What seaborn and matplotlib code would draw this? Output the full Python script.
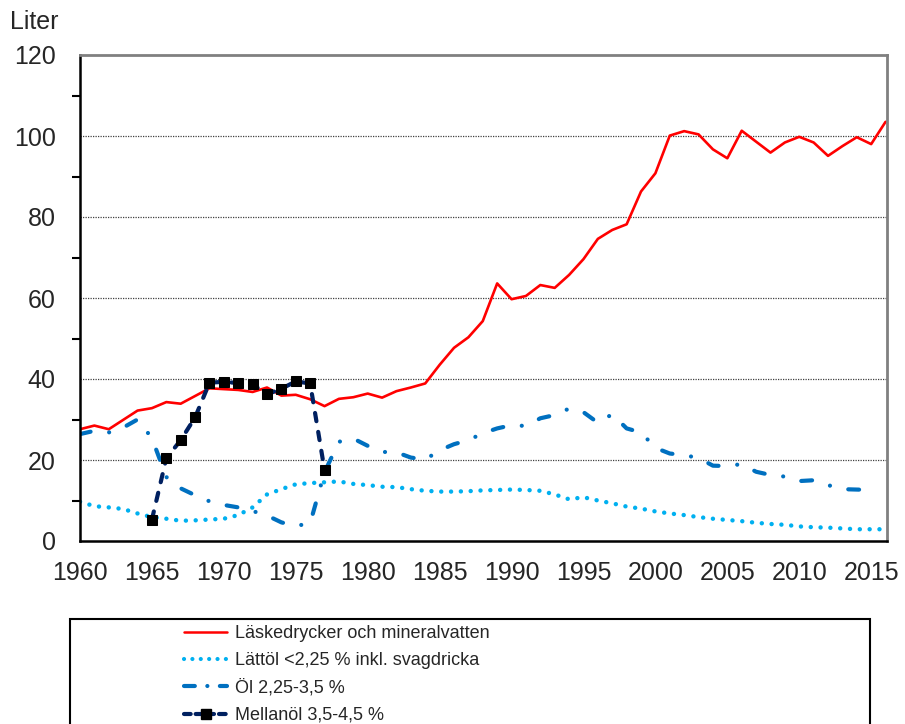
import numpy as np
import pandas as pd
import matplotlib
matplotlib.use("Agg")
import matplotlib.pyplot as plt
import matplotlib.patches as mpatches
from matplotlib.lines import Line2D
import seaborn as sns

# =========================================================
# DATA (liter per person)
# =========================================================

years = list(range(1960, 2017))

lask = [27.6, 28.5, 27.6, 29.9, 32.2, 32.8, 34.3, 33.9, 35.8, 37.7,
        37.5, 37.3, 36.8, 37.9, 35.9, 36.1, 35.0, 33.3, 35.1, 35.5,
        36.4, 35.4, 37.0, 37.9, 38.9, 43.5, 47.7, 50.3, 54.3, 63.6,
        59.7, 60.5, 63.2, 62.5, 65.7, 69.6, 74.6, 76.8, 78.2, 86.3,
        90.8, 100.1, 101.2, 100.4, 96.7, 94.5, 101.3, 98.6, 95.9, 98.4,
        99.8, 98.4, 95.1, 97.5, 99.7, 98.0, 103.5]

lattol = [9.7, 8.6, 8.3, 7.9, 6.8, 5.9, 5.5, 5.0, 5.1, 5.3,
          5.5, 6.4, 8.3, 11.5, 12.8, 14.0, 14.3, 14.5, 14.7, 14.1,
          13.8, 13.4, 13.3, 12.8, 12.4, 12.2, 12.2, 12.3, 12.5, 12.6,
          12.7, 12.6, 12.4, 11.5, 10.3, 10.8, 10.0, 9.3, 8.5, 8.0,
          7.3, 6.8, 6.4, 5.9, 5.5, 5.2, 4.9, 4.5, 4.2, 4.0,
          3.6, 3.4, 3.3, 3.1, 2.9, 2.9, 2.9]

ol_years = list(range(1960, 2016))
ol = [26.4, 27.2, 26.8, 28.0, 30.0, 25.4, 15.8, 13.0, 11.3, 9.8,
      8.9, 8.3, 7.4, 6.3, 4.6, 3.7, 4.4, 17.0, 24.5, 25.3,
      23.5, 22.0, 21.9, 20.6, 20.1, 22.4, 23.9, 24.9, 26.6, 27.8,
      28.6, 28.4, 30.3, 31.1, 32.7, 31.8, 29.2, 31.3, 27.8, 26.8,
      23.0, 21.6, 21.2, 20.5, 18.6, 18.5, 19.0, 17.1, 16.3, 15.9,
      14.8, 15.0, 13.8, 12.8, 12.7, 12.6]

mellan_years = list(range(1965, 1978))
mellan = [5.3, 20.4, 24.9, 30.5, 39.1, 39.3, 39.0, 38.7, 36.2, 37.6,
          39.4, 38.9, 17.5]

labels = [
    "Läskedrycker och mineralvatten",
    "Lättöl <2,25 % inkl. svagdricka",
    "Öl 2,25-3,5 %",
    "Mellanöl 3,5-4,5 %",
]

# =========================================================
# STYLE
# =========================================================

sns.set_style("white")
plt.rcParams["font.family"] = ["Liberation Sans", "DejaVu Sans"]

RED = "#FF0000"
LIGHT = "#00B0F0"
MID = "#0070C0"
NAVY = "#002060"

fig = plt.figure(figsize=(9.05, 7.24), dpi=100)
ax = fig.add_axes([80 / 905, 1 - 541 / 724, 807 / 905, 486 / 724])

# =========================================================
# LINES
# =========================================================

sns.lineplot(x=years, y=lask, ax=ax, color=RED, linewidth=1.9)
sns.lineplot(x=years, y=lattol, ax=ax, color=LIGHT, linewidth=3.2,
             dashes=(0.01, 2.2), dash_capstyle="round")
sns.lineplot(x=ol_years, y=ol, ax=ax, color=MID, linewidth=3,
             dashes=(2.6, 4.5, 0.01, 4.5), dash_capstyle="round")
sns.lineplot(x=mellan_years, y=mellan, ax=ax, color=NAVY, linewidth=3,
             dashes=(2.0, 2.6), dash_capstyle="round",
             marker="s", markersize=7.5, markerfacecolor="black",
             markeredgecolor="black")

# =========================================================
# AXES
# =========================================================

ax.set_xlim(1960, 2016.1)
ax.set_ylim(0, 120)
ax.set_xticks(range(1960, 2016, 5))
ax.set_yticks(range(0, 121, 20))
ax.set_yticks(range(10, 120, 20), minor=True)
ax.set_xlabel("")
ax.set_ylabel("")

for y in range(20, 101, 20):
    ax.axhline(y, color="#404040", linewidth=0.9,
               linestyle=(0, (1, 1)), zorder=0)

ax.tick_params(axis="both", which="both", direction="out", length=5.5,
               width=1.5, color="black", labelsize=18)
ax.tick_params(axis="x", pad=9)
ax.tick_params(axis="y", pad=12)
ax.tick_params(axis="y", which="minor", left=True, length=5.5)

for side in ["left", "bottom"]:
    ax.spines[side].set_color("black")
    ax.spines[side].set_linewidth(1.8)
for side in ["top", "right"]:
    ax.spines[side].set_color("#808080")
    ax.spines[side].set_linewidth(2)

fig.text(10 / 905, 1 - 22 / 724, "Liter", fontsize=18, va="center", ha="left")

# =========================================================
# LEGEND
# =========================================================

handles = [
    Line2D([], [], color=RED, linewidth=1.8),
    Line2D([], [], color=LIGHT, linewidth=3, dashes=(0.01, 2.0),
           dash_capstyle="round"),
    Line2D([], [], color=MID, linewidth=3, dashes=(2.6, 3.0, 0.01, 3.0),
           dash_capstyle="round"),
    Line2D([], [], color=NAVY, linewidth=3, dashes=(1.6, 1.2),
           dash_capstyle="round", marker="s", markersize=7,
           markerfacecolor="black", markeredgecolor="black"),
]

fig.legend(handles, labels, loc="upper left",
           bbox_to_anchor=(184 / 905, 1 - 625 / 724),
           bbox_transform=fig.transFigure, frameon=False,
           borderpad=0, borderaxespad=0, handlelength=2.4,
           handletextpad=0.4, labelspacing=0.56,
           prop={"family": "Liberation Sans", "size": 13})

box = mpatches.Rectangle((70 / 905, -0.05), 800 / 905, 0.05 + 1 - 619 / 724,
                         transform=fig.transFigure, fill=False,
                         edgecolor="black", linewidth=1.5, clip_on=False)
fig.add_artist(box)

plt.savefig("out.png", dpi=100)
plt.close()
